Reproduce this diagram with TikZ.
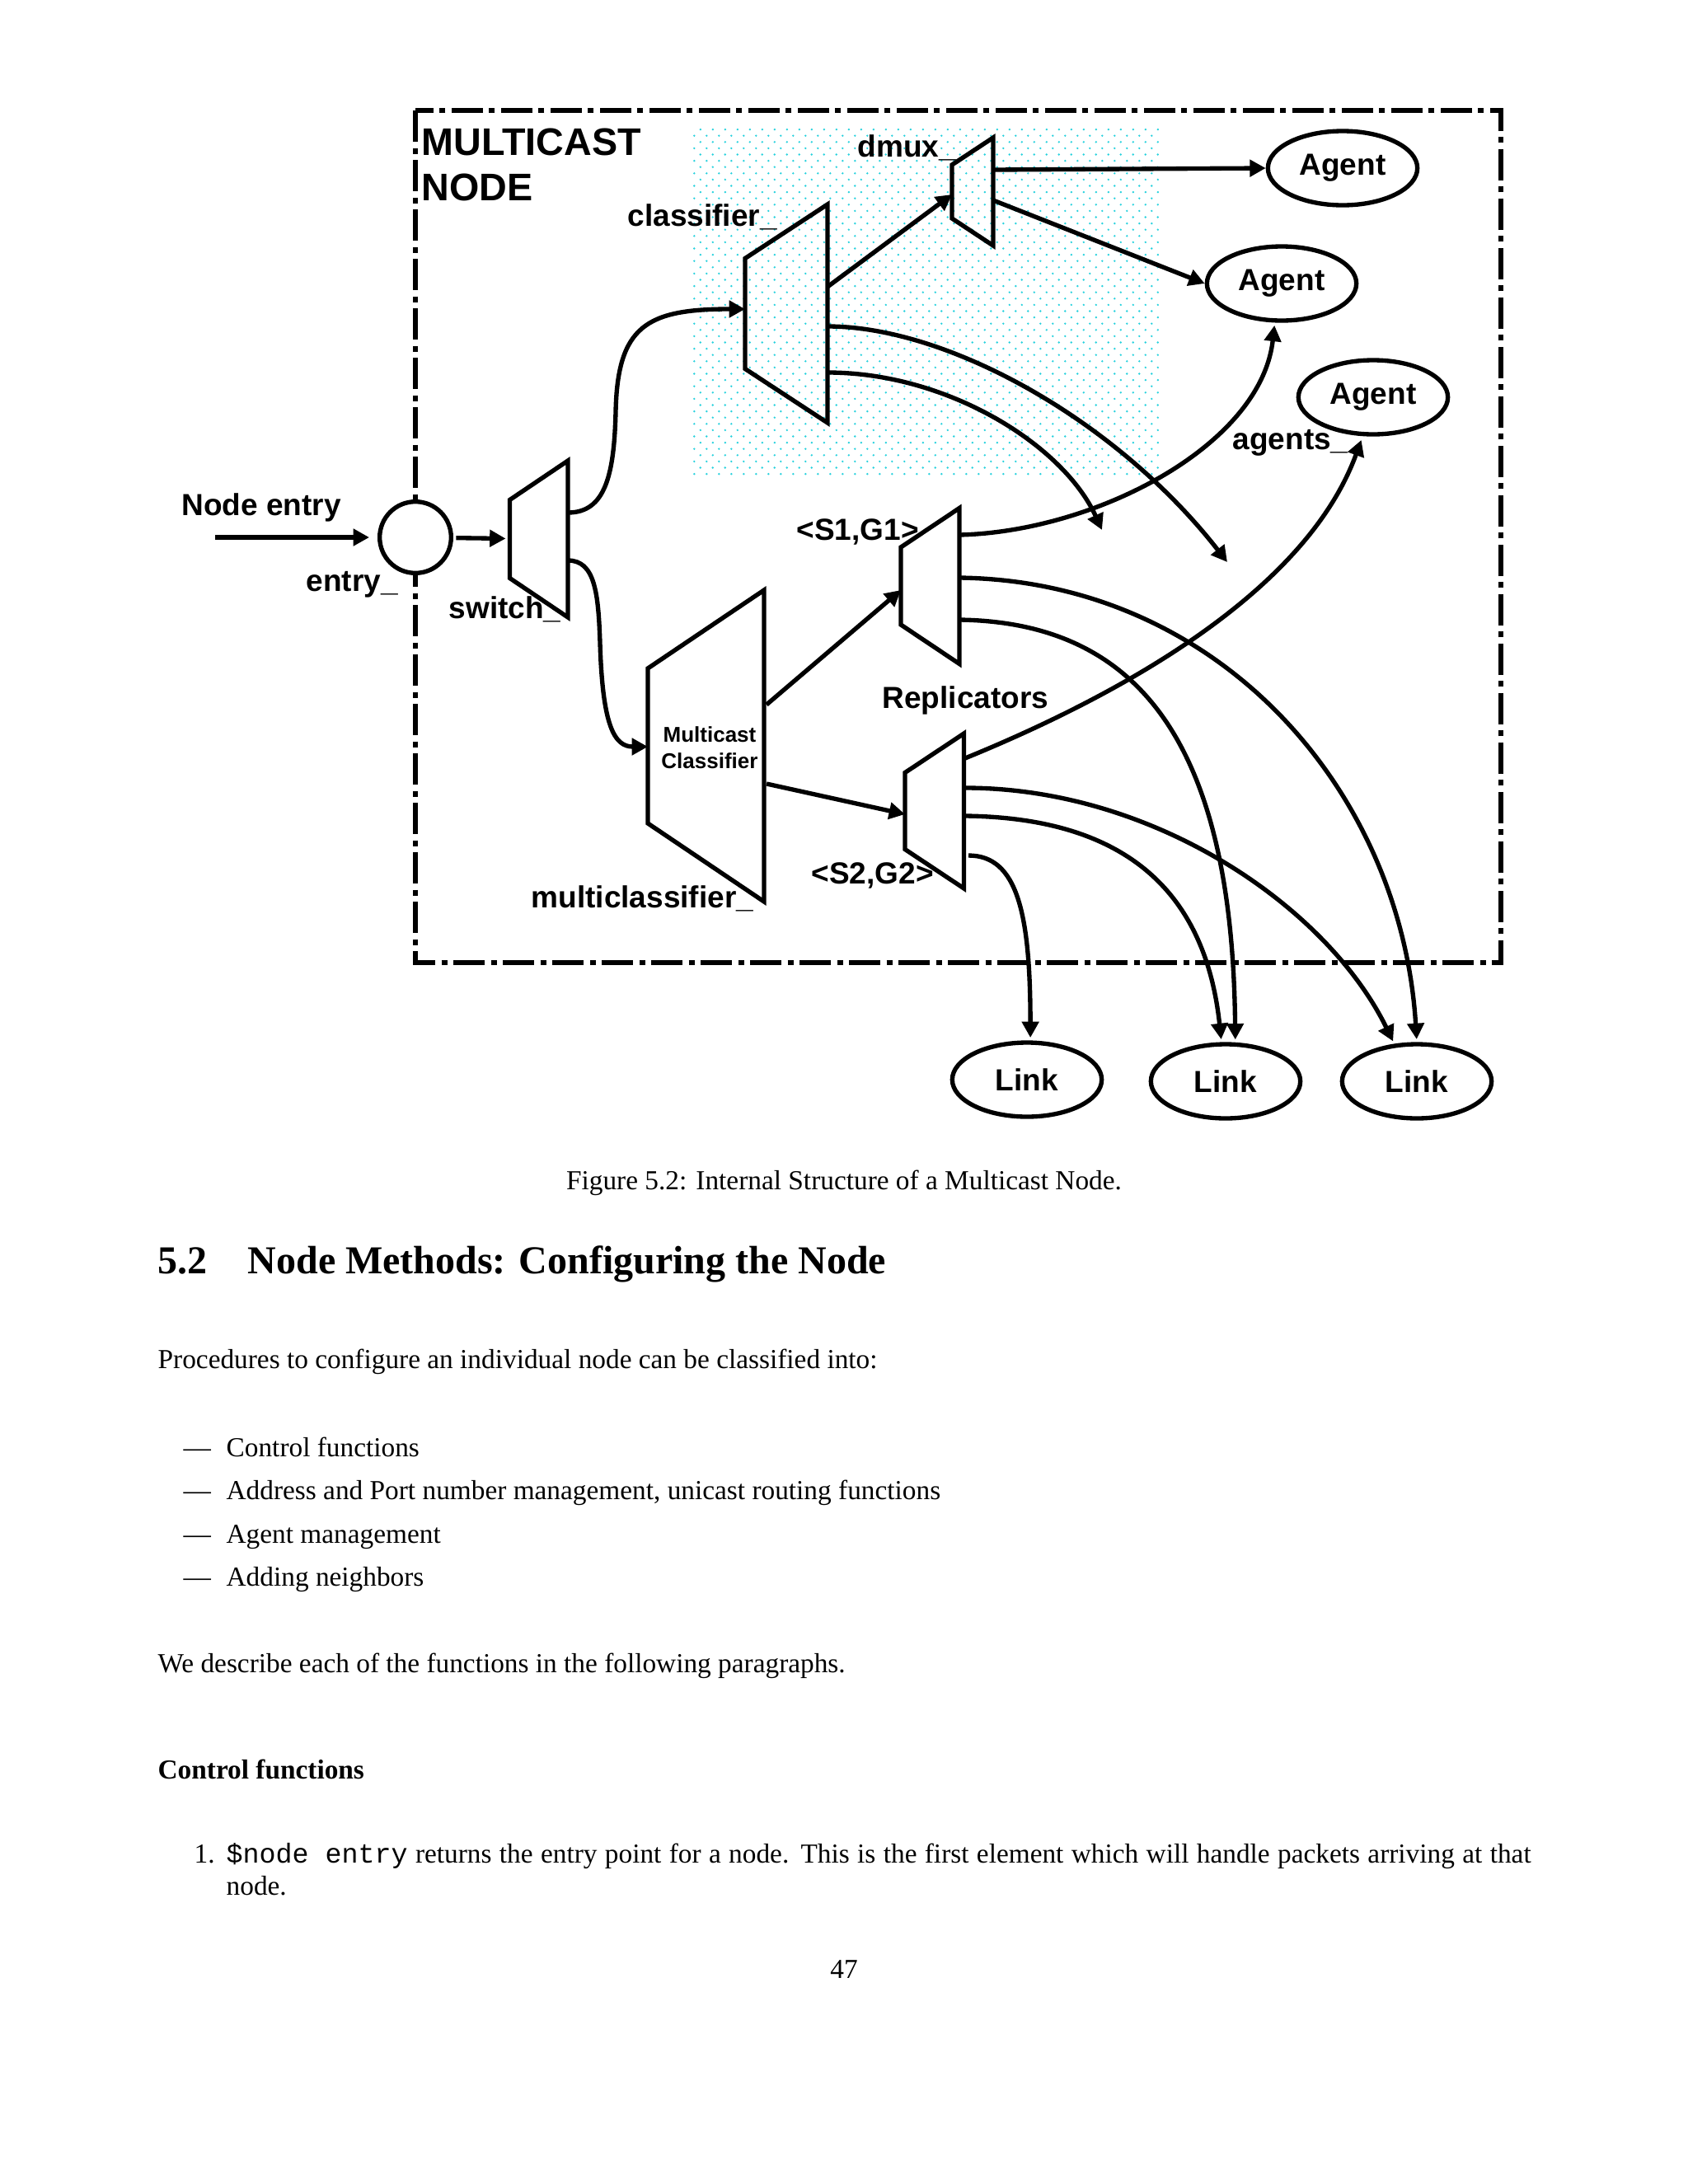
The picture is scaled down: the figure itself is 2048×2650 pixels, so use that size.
\documentclass[tikz,border=0pt]{standalone}
\usepackage{fontspec}
\setmainfont{Liberation Serif}
\setmonofont{Liberation Mono}
\newfontfamily\arialf{Liberation Sans}
\usetikzlibrary{arrows.meta,calc,shapes.geometric}
\definecolor{dotc}{RGB}{40,210,222}
\newcommand\labfont{\arialf\bfseries\fontsize{11.1}{13.3}\selectfont}
\newcommand\bigfont{\arialf\bfseries\fontsize{14}{16.3}\selectfont}
\newcommand\smallfont{\arialf\bfseries\fontsize{7.8}{9.6}\selectfont}
\newcommand\bodyfont{\fontsize{10}{12}\selectfont}
% name, xl, xr, yc, half height left, half height right
\newcommand\mytrap[6]{%
  \node[inner sep=0pt,outer sep=0pt,minimum width={(#3-#2)*0.3pt},minimum height={2*#6*0.3pt}] (#1) at ({(#2+#3)/2},{#4}) {};
  \draw[shapeline] ({#2},{#4-#5}) -- ({#3},{#4-#6}) -- ({#3},{#4+#6}) -- ({#2},{#4+#5}) -- cycle;
}
\begin{document}
\begin{tikzpicture}[x=0.3pt,y=-0.3pt,
  lw/.style={line width=1.6pt},
  shapeline/.style={lw, line join=miter},
  arr/.style={lw, -{Triangle[length=5.8pt,width=6pt]}},
  frameline/.style={line width=1.6pt, dash pattern=on 11.5pt off 2.2pt on 2.1pt off 2.2pt},
  oval/.style={ellipse, draw, lw, fill=white, minimum width=54.4pt, minimum height=27pt, inner sep=0pt, font=\labfont},
  lab/.style={anchor=base west, inner sep=0pt, font=\labfont},
  body/.style={anchor=base west, inner sep=0pt, font=\bodyfont},
]
\useasboundingbox (0,0) rectangle (2048,2650);
\fill[white] (0,0) rectangle (2048,2650);

% dotted background region
\foreach \j in {0,...,55}{
  \foreach \i in {0,...,37}{
    \fill[dotc] ({842.3+\i*15+7.5*(1-mod(\j,2))},{157.1+\j*7.6}) circle[radius=0.4pt];
  }
}

% frame
\draw[frameline] (504,134) rectangle (1821,1168);

% labels of the frame
\node[anchor=base west, inner sep=0pt, font=\bigfont] (tmc) at (511,188) {MULTICAST};
\node[anchor=base west, inner sep=0pt, font=\bigfont] (tnd) at (511,243) {NODE};

% entry circle
\node[circle, draw, lw, fill=white, minimum size=26pt, inner sep=0pt] (entry) at (504,652) {};

% trapezoids
\mytrap{sw}{618.5}{689}{654}{47.5}{95}
\mytrap{cls}{904}{1004}{380.5}{67}{132.5}
\mytrap{dmux}{1155}{1205}{232.5}{32.5}{65.5}
\mytrap{mcls}{786}{927}{905}{94}{189}
\mytrap{rA}{1093}{1164}{711}{47}{94.5}
\mytrap{rB}{1098}{1169.5}{984}{46.5}{94}

% ovals
\node[oval] (ag1) at (1629,204) {Agent};
\node[oval] (ag2) at (1555,344) {Agent};
\node[oval] (ag3) at (1666,482) {Agent};
\node[oval] (lk1) at (1246,1310) {Link};
\node[oval] (lk2) at (1487,1312) {Link};
\node[oval] (lk3) at (1719,1312) {Link};

% ports and free ends
\coordinate (nein) at (261,652);
\coordinate (sw-o1) at (689,622);
\coordinate (sw-o2) at (689,680);
\coordinate (cls-i) at (904,375);
\coordinate (cls-o0) at (1004,348);
\coordinate (cls-o1) at (1004,396);
\coordinate (cls-o2) at (1004,452);
\coordinate (dmux-i) at (1155,236);
\coordinate (dmux-o1) at (1205,206);
\coordinate (dmux-o2) at (1205,243);
\coordinate (mcls-i) at (786,906);
\coordinate (mcls-o1) at (930,855);
\coordinate (mcls-o2) at (930,951);
\coordinate (rA-i) at (1093,716);
\coordinate (rA-o1) at (1164,649);
\coordinate (rA-o2) at (1164,701);
\coordinate (rA-o3) at (1164,752);
\coordinate (rB-i) at (1098,988);
\coordinate (rB-o1) at (1171,920);
\coordinate (rB-o2) at (1171,956);
\coordinate (rB-o3) at (1171,990);
\coordinate (rB-o4) at (1175,1038);
\coordinate (free1) at (1489,682);
\coordinate (free2) at (1337,643);

% connectors
\draw[arr, shorten >=3pt] (nein) -- (entry);
\draw[arr, shorten <=1pt, shorten >=1.5pt] (entry) -- (sw);
\draw[arr] (sw-o1) .. controls (735,622) and (745,575) .. (747,500) .. controls (749,395) and (785,375) .. (cls-i);
\draw[arr] (sw-o2) .. controls (722,680) and (726,720) .. (728,780) .. controls (731,880) and (745,906) .. (mcls-i);
\draw[arr] (cls-o0) -- (dmux-i);
\draw[arr] (dmux-o1) -- (ag1.west);
\draw[arr] (dmux-o2) -- (ag2.west);
\draw[arr] (cls-o1) .. controls (1150,396) and (1355,510) .. (free1);
\draw[arr] (cls-o2) .. controls (1150,452) and (1290,540) .. (free2);
\draw[arr] (mcls-o1) -- (rA-i);
\draw[arr] (mcls-o2) -- (rB-i);
\draw[arr, shorten >=1pt] (rA-o1) .. controls (1330,645) and (1530,540) .. (ag2.260);
\draw[arr, shorten >=1pt] (rA-o2) .. controls (1480,705) and (1700,960) .. (lk3.90);
\draw[arr, shorten >=1pt] (rA-o3) .. controls (1380,755) and (1495,900) .. (lk2.76);
\draw[arr, shorten >=1.5pt] (rB-o1) .. controls (1330,855) and (1580,730) .. (ag3.255);
\draw[arr, shorten >=1pt] (rB-o2) .. controls (1400,956) and (1610,1100) .. (lk3.121);
\draw[arr, shorten >=1pt] (rB-o3) .. controls (1340,992) and (1460,1060) .. (lk2.96);
\draw[arr, shorten >=1pt] (rB-o4) .. controls (1235,1038) and (1250,1110) .. (lk1.85);

% labels
\node[lab] (tdmux) at (1040,190) {dmux\_};
\node[lab] (tcls) at (761,274) {classifier\_};
\node[lab] (tne) at (220,625) {Node entry};
\node[lab] (tent) at (371,717) {entry\_};
\node[lab] (tsw) at (544,750) {switch\_};
\node[lab] (tmcls) at (644,1101) {multiclassifier\_};
\node[lab] (ts1) at (966,655) {<S1,G1>};
\node[lab] (ts2) at (984,1072) {<S2,G2>};
\node[lab] (trep) at (1070,859) {Replicators};
\node[lab] (tags) at (1495,545) {agents\_};
\node[align=center, inner sep=0pt, font=\smallfont] (tmc2) at (861,907) {Multicast\\Classifier};

% page text
\node[anchor=base, inner sep=0pt, font=\bodyfont] (cap) at (1024,1443) {Figure 5.2: Internal Structure of a Multicast Node.};
\node[anchor=base west, inner sep=0pt, font=\fontsize{14.4}{18}\selectfont\bfseries] (hnum) at (191,1545) {5.2};
\node[anchor=base west, inner sep=0pt, font=\fontsize{14.4}{18}\selectfont\bfseries] (htxt) at (300,1545) {Node Methods: Configuring the Node};
\node[body] (p1) at (191,1660) {Procedures to configure an individual node can be classified into:};
\node[body] (d1) at (222,1767) {—};
\node[body] (i1) at (274,1767) {Control functions};
\node[body] (d2) at (222,1819) {—};
\node[body] (i2) at (274,1819) {Address and Port number management, unicast routing functions};
\node[body] (d3) at (222,1872) {—};
\node[body] (i3) at (274,1872) {Agent management};
\node[body] (d4) at (222,1924) {—};
\node[body] (i4) at (274,1924) {Adding neighbors};
\node[body] (p2) at (191,2029) {We describe each of the functions in the following paragraphs.};
\node[body, font=\bodyfont\bfseries] (sub) at (191,2158) {Control functions};
\node[body] (n1) at (235,2260) {1.};
\node[body] (l1) at (274,2260) {\makebox[474.9pt][s]{\texttt{\$node entry} returns the entry point for a node. This is the first element which will handle packets arriving at that}};
\node[body] (l2) at (274,2299) {node.};
\node[anchor=base, inner sep=0pt, font=\bodyfont] (pg) at (1024,2400) {47};
\end{tikzpicture}
\end{document}
